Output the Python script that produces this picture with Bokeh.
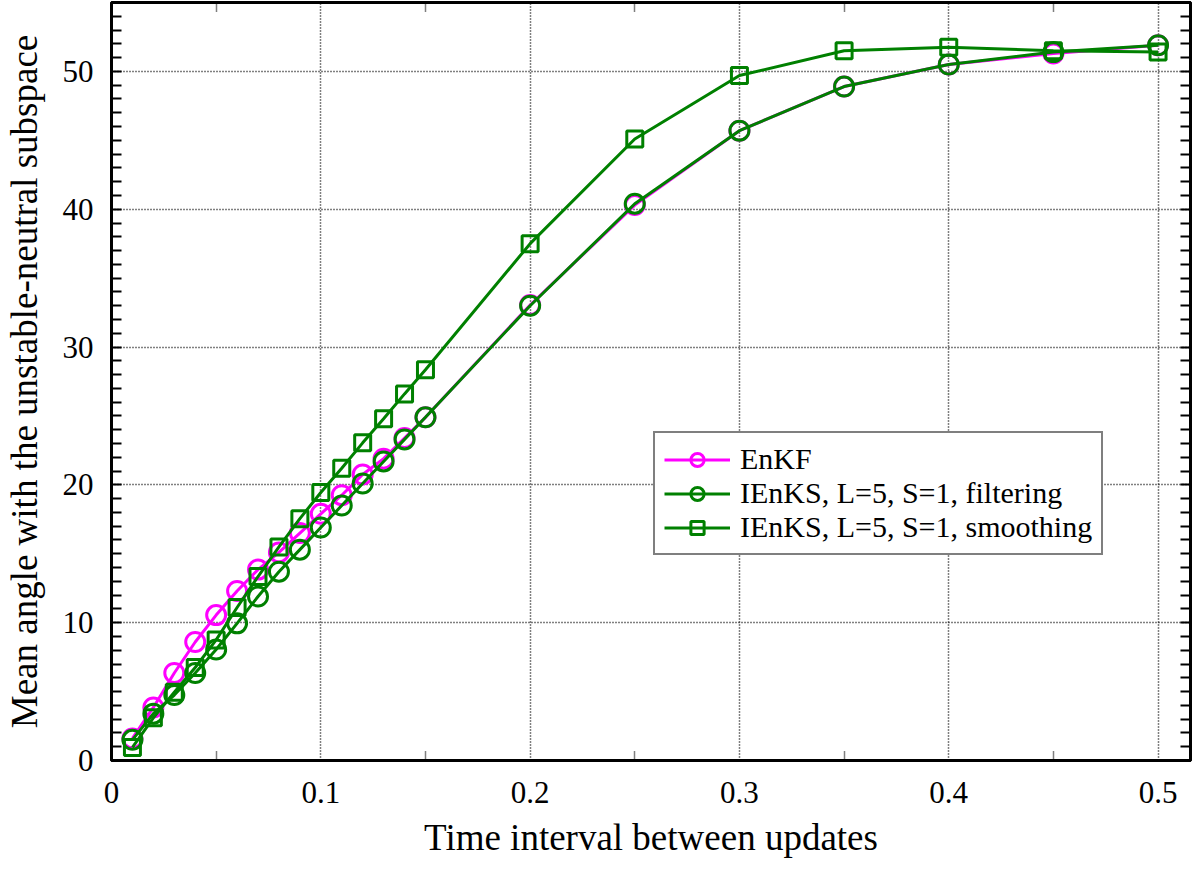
from bokeh.plotting import figure
from bokeh.models import (Range1d, FixedTicker, SingleIntervalTicker, LinearAxis,
                          Legend, LegendItem)
from bokeh.embed import file_html
from bokeh.resources import INLINE

# ---- data ----
dt = [0.01, 0.02, 0.03, 0.04, 0.05, 0.06, 0.07, 0.08, 0.09, 0.10, 0.11, 0.12,
      0.13, 0.14, 0.15, 0.20, 0.25, 0.30, 0.35, 0.40, 0.45, 0.50]
enkf = [1.6, 3.85, 6.35, 8.6, 10.55, 12.3, 13.85, 15.1, 16.5, 17.9, 19.25, 20.75,
        21.9, 23.4, 24.9, 33.05, 40.3, 45.7, 48.9, 50.5, 51.3, 51.9]
ienks_filt = [1.5, 3.4, 4.75, 6.35, 8.05, 9.95, 11.9, 13.7, 15.3, 16.9, 18.5, 20.1,
              21.7, 23.3, 24.9, 33.0, 40.4, 45.7, 48.9, 50.5, 51.4, 51.9]
ienks_smooth = [0.95, 3.1, 4.95, 6.75, 8.75, 11.1, 13.35, 15.5, 17.55, 19.45, 21.2, 23.05,
                24.8, 26.6, 28.35, 37.5, 45.1, 49.7, 51.5, 51.75, 51.5, 51.4]

series_labels = ["EnKF", "IEnKS, L=5, S=1, filtering", "IEnKS, L=5, S=1, smoothing"]
x_ticks = [0, 0.1, 0.2, 0.3, 0.4, 0.5]
x_tick_labels = ["0", "0.1", "0.2", "0.3", "0.4", "0.5"]
x_minor = [0.05, 0.15, 0.25, 0.35, 0.45]
y_ticks = [0, 10, 20, 30, 40, 50]
x_label = "Time interval between updates"
y_label = "Mean angle with the unstable-neutral subspace"

FONT = "Liberation Serif"
MAGENTA = "#ff00ff"
GREEN = "#008000"

p = figure(width=1192, height=861, output_backend="svg", toolbar_location=None,
           x_range=Range1d(0, 0.5155), y_range=Range1d(0, 55),
           min_border_left=111, min_border_right=2, min_border_top=2,
           min_border_bottom=101, x_axis_label=x_label, y_axis_label=y_label)
p.background_fill_color = "white"
p.border_fill_color = "white"
p.outline_line_color = "black"
p.outline_line_width = 3

xt = FixedTicker(ticks=x_ticks, minor_ticks=x_minor)
yt = SingleIntervalTicker(interval=10, num_minor_ticks=10)

def common(ax):
    ax.axis_line_width = 3
    ax.axis_line_color = "black"
    ax.major_tick_line_color = None
    ax.major_tick_in = 0
    ax.major_tick_out = 0
    ax.minor_tick_out = 0

def labels_on(ax, standoff, label_standoff):
    ax.major_label_text_font = FONT
    ax.major_label_text_font_size = "31px"
    ax.major_label_text_color = "black"
    ax.major_label_standoff = standoff
    ax.axis_label_text_font = FONT
    ax.axis_label_text_font_size = "37px"
    ax.axis_label_text_font_style = "normal"
    ax.axis_label_text_color = "black"
    ax.axis_label_standoff = label_standoff

def style_x(ax, labels=True):
    common(ax)
    ax.ticker = xt
    ax.minor_tick_line_color = "black"
    ax.minor_tick_line_dash = "1 1"
    ax.minor_tick_line_width = 1.5
    ax.minor_tick_in = 9
    if labels:
        ax.major_label_overrides = dict(zip(x_ticks, x_tick_labels))
        labels_on(ax, 21, 11)
    else:
        ax.major_label_overrides = {t: "" for t in x_ticks}
        ax.major_label_standoff = 0

def style_y(ax, labels=True):
    common(ax)
    ax.ticker = yt
    ax.minor_tick_line_color = "black"
    ax.minor_tick_line_width = 2
    ax.minor_tick_in = 10
    if labels:
        labels_on(ax, 18, 15)
    else:
        ax.major_label_overrides = {t: "" for t in y_ticks}
        ax.major_label_standoff = 0

style_x(p.xaxis[0])
style_y(p.yaxis[0])

top_ax = LinearAxis()
style_x(top_ax, labels=False)
p.add_layout(top_ax, "above")
right_ax = LinearAxis()
style_y(right_ax, labels=False)
p.add_layout(right_ax, "right")

for g in (p.xgrid[0], p.ygrid[0]):
    g.grid_line_color = "black"
    g.grid_line_dash = "1 2"
    g.grid_line_width = 1.5
    g.grid_line_alpha = 1.0
p.xgrid[0].ticker = xt
p.ygrid[0].ticker = yt

items = []
for ys, color, marker, size, lab in [
        (enkf, MAGENTA, "circle", 19, series_labels[0]),
        (ienks_filt, GREEN, "circle", 19, series_labels[1]),
        (ienks_smooth, GREEN, "square", 16, series_labels[2])]:
    l = p.line(dt, ys, line_color=color, line_width=3)
    s = p.scatter(dt, ys, marker=marker, size=size, line_color=color,
                  line_width=3, fill_color=None)
    items.append(LegendItem(label=lab, renderers=[l, s]))

legend = Legend(items=items, location=(542, 205))
legend.label_text_font = FONT
legend.label_text_font_size = "30px"
legend.label_text_color = "black"
legend.glyph_width = 66
legend.glyph_height = 33
legend.label_height = 33
legend.label_standoff = 10
legend.spacing = 0
legend.padding = 9
legend.margin = 0
legend.border_line_color = "black"
legend.border_line_width = 2
legend.background_fill_color = "white"
legend.background_fill_alpha = 1.0
p.add_layout(legend, "center")

open("out.html", "w").write(file_html(p, INLINE))
